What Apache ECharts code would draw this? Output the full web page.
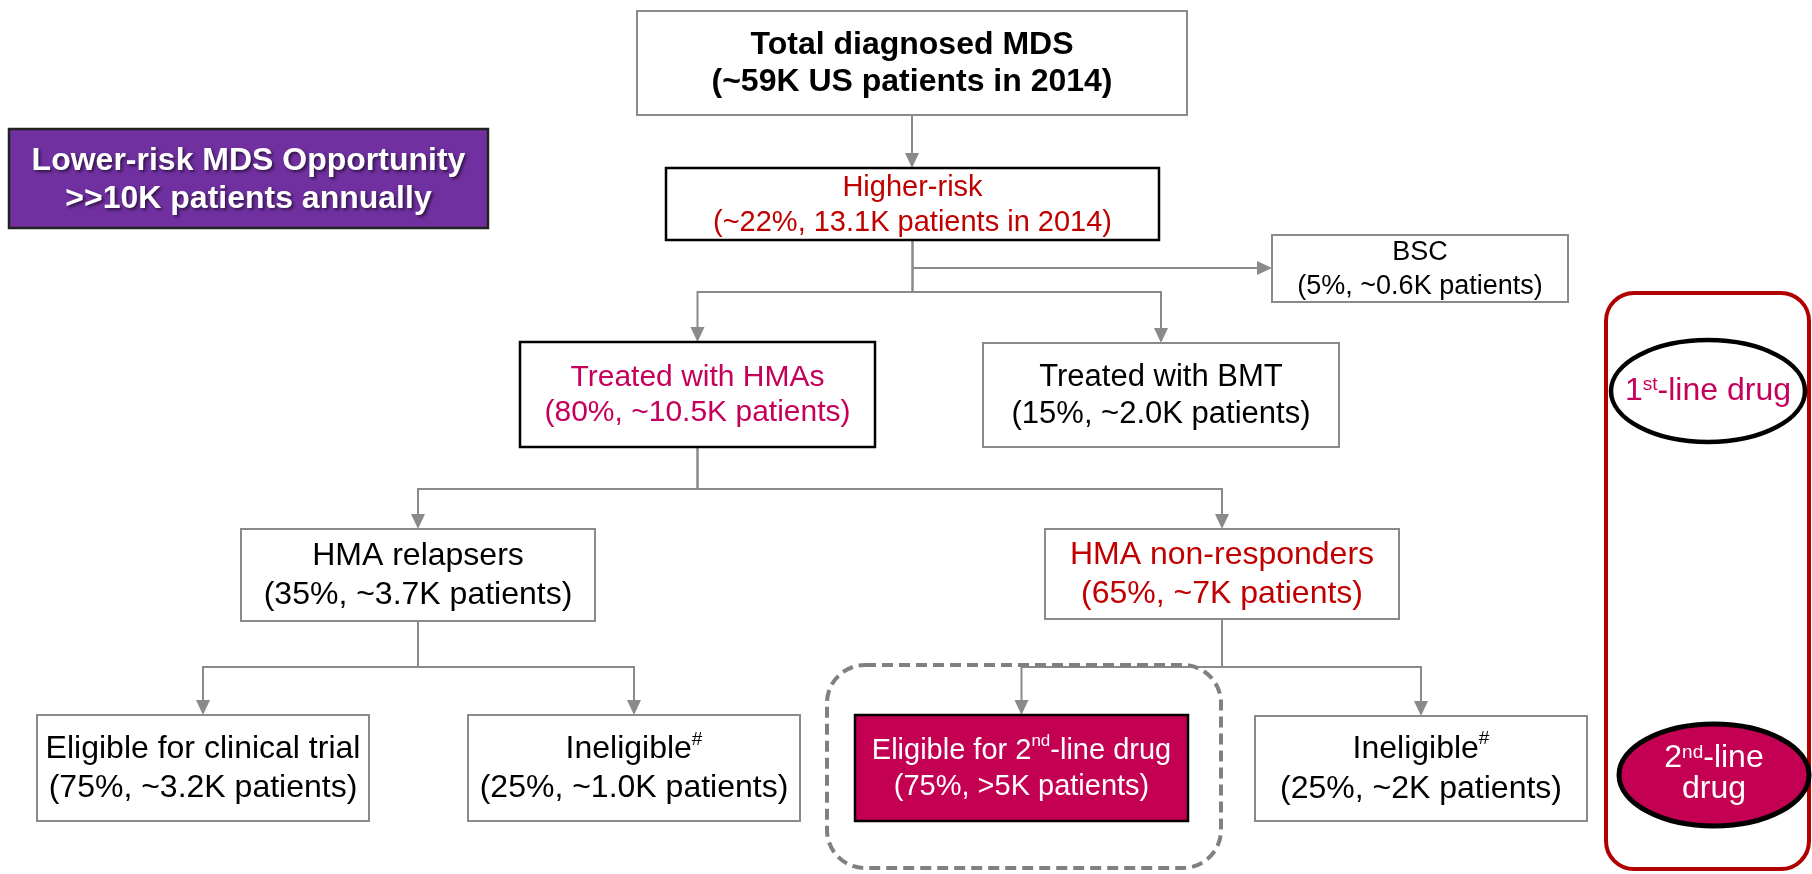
<!DOCTYPE html>
<html>
<head>
<meta charset="utf-8">
<title>MDS patient flow</title>
<style>
  html, body { margin: 0; padding: 0; background: #fff; }
  #chart { width: 1812px; height: 874px; }
</style>
<script src="https://cdn.jsdelivr.net/npm/echarts@6/dist/echarts.min.js"></script>
</head>
<body>
<div id="chart"></div>
<script>
// --- chart content ---
const nodeIds = ['total', 'higher', 'bsc', 'hma', 'bmt', 'relapse', 'nonresp', 'trial', 'inelig1', 'second', 'inelig2']
const nodeTitles = ['Total diagnosed MDS', 'Higher-risk', 'BSC', 'Treated with HMAs', 'Treated with BMT',
  'HMA relapsers', 'HMA non-responders', 'Eligible for clinical trial', 'Ineligible{sup|#}',
  'Eligible for 2{sup|nd}-line drug', 'Ineligible{sup|#}']
const nodeShares = ['', '~22%', '5%', '80%', '15%', '35%', '65%', '75%', '25%', '75%', '25%']
const nodePatients = ['~59K US patients in 2014', '13.1K patients in 2014', '~0.6K patients', '~10.5K patients',
  '~2.0K patients', '~3.7K patients', '~7K patients', '~3.2K patients', '~1.0K patients', '>5K patients', '~2K patients']
const links = [['total', 'higher'], ['higher', 'bsc'], ['higher', 'hma'], ['higher', 'bmt'],
  ['hma', 'relapse'], ['hma', 'nonresp'], ['relapse', 'trial'], ['relapse', 'inelig1'],
  ['nonresp', 'second'], ['nonresp', 'inelig2']]
const calloutLines = ['Lower-risk MDS Opportunity', '>>10K patients annually']
const legendLabels = ['1{sup|st}-line drug', '2{sup|nd}-line\ndrug']

// --- layout (canvas units, mapped through hidden value axes) ---
const boxLayout = {
  total: [637, 11, 1187, 115],
  higher: [666, 168, 1159, 240],
  bsc: [1272, 235, 1568, 302],
  hma: [520, 342, 875, 447],
  bmt: [983, 343, 1339, 447],
  relapse: [241, 529, 595, 621],
  nonresp: [1045, 529, 1399, 619],
  trial: [37, 715, 369, 821],
  inelig1: [468, 715, 800, 821],
  second: [855, 715, 1188, 821],
  inelig2: [1255, 716, 1587, 821]
}
const busY = { higher: 292, hma: 489, relapse: 667, nonresp: 667 }
const sideBranchY = { bsc: 268 }
const calloutBox = [9, 129, 488, 228]
const dashedFrame = [827, 665, 1221, 868]
const sidePanel = [1606, 293, 1809, 869]
const legendEllipses = [[1708, 391, 97, 51], [1714, 775, 95, 51]]

const FONT = '"Liberation Sans", Arial, Helvetica, sans-serif'
const GRAY = '#8a8a8a'
const RED = '#c00000'
const MAGENTA = '#c5005a'
const MAGENTA_FILL = '#c40052'

const boxStyles = {
  total: { stroke: GRAY, lw: 2, color: '#000', bold: true, size: 32, lh: 37 },
  higher: { stroke: '#000', lw: 2.5, color: RED, size: 29, lh: 35 },
  bsc: { stroke: GRAY, lw: 2, color: '#000', size: 27, lh: 34 },
  hma: { stroke: '#000', lw: 2.5, color: MAGENTA, size: 30, lh: 35 },
  bmt: { stroke: GRAY, lw: 2, color: '#000', size: 31, lh: 37 },
  relapse: { stroke: GRAY, lw: 2, color: '#000' },
  nonresp: { stroke: GRAY, lw: 2, color: RED },
  trial: { stroke: GRAY, lw: 2, color: '#000' },
  inelig1: { stroke: GRAY, lw: 2, color: '#000' },
  second: { stroke: '#000', lw: 2.5, color: '#fff', fill: MAGENTA_FILL, size: 29, lh: 36 },
  inelig2: { stroke: GRAY, lw: 2, color: '#000', lh: 40 }
}

function supRich(size, weight) {
  return {
    sup: { fontSize: Math.round(size * 0.6), lineHeight: 14, verticalAlign: 'top', fontFamily: FONT, fontWeight: weight }
  }
}

function nodeText(i) {
  const share = nodeShares[i]
  const second = share ? '(' + share + ', ' + nodePatients[i] + ')' : '(' + nodePatients[i] + ')'
  return nodeTitles[i] + '\n' + second
}

function rectOf(api, b) {
  const p1 = api.coord([b[0], b[1]])
  const p2 = api.coord([b[2], b[3]])
  return { x: p1[0], y: p1[1], width: p2[0] - p1[0], height: p2[1] - p1[1] }
}

function renderNode(params, api) {
  const i = params.dataIndex
  const id = nodeIds[i]
  const st = boxStyles[id]
  const r = rectOf(api, boxLayout[id])
  const size = st.size || 32
  const weight = st.bold ? 'bold' : 'normal'
  return {
    type: 'group',
    children: [
      { type: 'rect', shape: r, style: { fill: st.fill || '#fff', stroke: st.stroke, lineWidth: st.lw } },
      {
        type: 'text',
        x: r.x + r.width / 2,
        y: r.y + r.height / 2 + 1,
        style: {
          text: nodeText(i),
          fill: st.color,
          fontSize: size,
          fontFamily: FONT,
          fontWeight: weight,
          lineHeight: st.lh || 39,
          align: 'center',
          verticalAlign: 'middle',
          rich: supRich(size, weight)
        }
      }
    ]
  }
}

function arrowHead(tip, dir) {
  const len = 15, half = 7
  const [x, y] = tip
  if (dir === 'down') return [[x - half, y - len], [x + half, y - len], [x, y]]
  return [[x - len, y - half], [x - len, y + half], [x, y]]
}

function renderLink(params, api) {
  const [from, to] = links[params.dataIndex]
  const pb = boxLayout[from]
  const cb = boxLayout[to]
  const px = (pb[0] + pb[2]) / 2
  let pts, dir
  if (sideBranchY[to] !== undefined) {
    const y = sideBranchY[to]
    pts = [[px, y], [cb[0], y]]
    dir = 'right'
  } else if (busY[from] !== undefined) {
    const cx = (cb[0] + cb[2]) / 2
    pts = [[px, pb[3]], [px, busY[from]], [cx, busY[from]], [cx, cb[1]]]
    dir = 'down'
  } else {
    pts = [[px, pb[3]], [px, cb[1]]]
    dir = 'down'
  }
  const pix = pts.map(p => api.coord(p))
  const tip = pix[pix.length - 1].slice()
  const end = pix[pix.length - 1]
  if (dir === 'down') end[1] -= 12
  else end[0] -= 12
  return {
    type: 'group',
    children: [
      { type: 'polyline', shape: { points: pix }, style: { stroke: GRAY, lineWidth: 2, fill: null } },
      { type: 'polygon', shape: { points: arrowHead(tip, dir) }, style: { fill: GRAY } }
    ]
  }
}

function renderDecor(params, api) {
  const children = []
  // dashed frame around the 2nd-line box
  children.push({
    type: 'rect',
    shape: Object.assign(rectOf(api, dashedFrame), { r: 38 }),
    style: { fill: null, stroke: '#808080', lineWidth: 4, lineDash: [11, 6] }
  })
  // right side panel
  children.push({
    type: 'rect',
    shape: Object.assign(rectOf(api, sidePanel), { r: 28 }),
    style: { fill: null, stroke: '#b00000', lineWidth: 4 }
  })
  // callout box
  const cr = rectOf(api, calloutBox)
  children.push({ type: 'rect', shape: cr, style: { fill: '#7030a0', stroke: '#222', lineWidth: 2.5 } })
  children.push({
    type: 'text',
    x: cr.x + cr.width / 2,
    y: cr.y + cr.height / 2 + 2,
    style: {
      text: calloutLines.join('\n'),
      fill: '#fff', fontSize: 32, fontFamily: FONT, fontWeight: 'bold', lineHeight: 38,
      align: 'center', verticalAlign: 'middle',
      textShadowColor: 'rgba(0,0,0,0.55)', textShadowBlur: 3, textShadowOffsetX: 2, textShadowOffsetY: 2
    }
  })
  // legend ellipses
  legendEllipses.forEach((e, k) => {
    const c = api.coord([e[0], e[1]])
    children.push({
      type: 'ellipse',
      shape: { cx: c[0], cy: c[1], rx: e[2], ry: e[3] },
      style: { fill: k === 0 ? '#fff' : MAGENTA_FILL, stroke: '#000', lineWidth: k === 0 ? 4.5 : 5 }
    })
    children.push({
      type: 'text',
      x: c[0],
      y: c[1] + (k === 0 ? 0 : -1),
      style: {
        text: legendLabels[k],
        fill: k === 0 ? MAGENTA : '#fff',
        fontSize: 32, fontFamily: FONT, lineHeight: 31,
        align: 'center', verticalAlign: 'middle',
        rich: supRich(32, 'normal')
      }
    })
  })
  return { type: 'group', children }
}

const chart = echarts.init(document.getElementById('chart'), null, { renderer: 'canvas' })

chart.setOption({
  animation: false,
  backgroundColor: '#fff',
  grid: { left: 0, right: 0, top: 0, bottom: 0 },
  xAxis: { type: 'value', min: 0, max: 1812, show: false },
  yAxis: { type: 'value', min: 0, max: 874, inverse: true, show: false },
  series: [
    {
      type: 'custom',
      clip: false,
      silent: true,
      data: links.map((_, i) => [i, 0]),
      renderItem: renderLink
    },
    {
      type: 'custom',
      clip: false,
      silent: true,
      data: [[0, 0]],
      renderItem: renderDecor
    },
    {
      type: 'custom',
      clip: false,
      silent: true,
      data: nodeIds.map((_, i) => [i, 0]),
      renderItem: renderNode
    }
  ]
})
</script>
</body>
</html>
